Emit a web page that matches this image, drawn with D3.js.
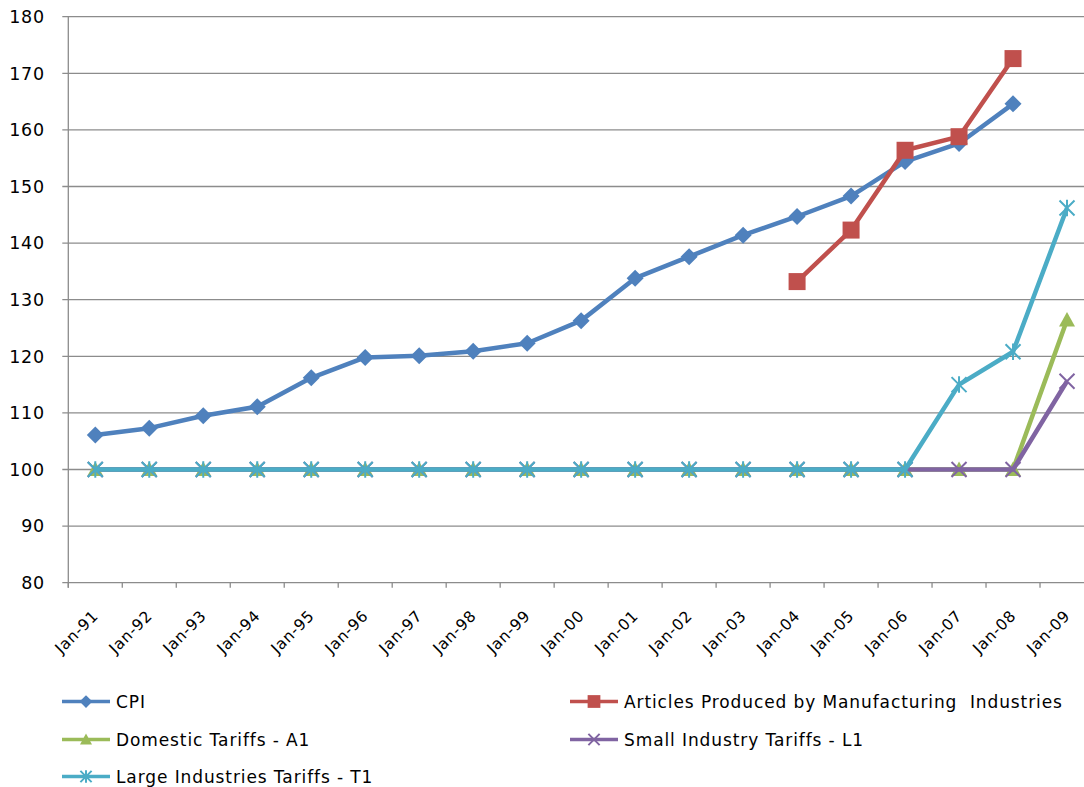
<!DOCTYPE html>
<html>
<head>
<meta charset="utf-8">
<script src="https://cdn.jsdelivr.net/npm/d3@7"></script>
<style>
  html, body { margin: 0; padding: 0; background: #fff; }
  svg { display: block; font-family: "DejaVu Sans", sans-serif; }
</style>
</head>
<body>
<svg id="chart" width="1084" height="787"></svg>
<script>
const categories = ["Jan-91","Jan-92","Jan-93","Jan-94","Jan-95","Jan-96","Jan-97","Jan-98","Jan-99","Jan-00","Jan-01","Jan-02","Jan-03","Jan-04","Jan-05","Jan-06","Jan-07","Jan-08","Jan-09"];
const cpi      = [106.1,107.3,109.5,111.1,116.2,119.8,120.1,120.9,122.3,126.3,133.8,137.6,141.4,144.7,148.3,154.4,157.6,164.6,null];
const articles = [null,null,null,null,null,null,null,null,null,null,null,null,null,133.2,142.3,156.4,158.8,172.6,null];
const domesticA1 = [100,100,100,100,100,100,100,100,100,100,100,100,100,100,100,100,100,100,126.4];
const smallL1    = [100,100,100,100,100,100,100,100,100,100,100,100,100,100,100,100,100,100,115.6];
const largeT1    = [100,100,100,100,100,100,100,100,100,100,100,100,100,100,100,100,115.0,120.8,146.2];
const yTicks = [80,90,100,110,120,130,140,150,160,170,180];
const seriesNames = ["CPI","Articles Produced by Manufacturing  Industries","Domestic Tariffs - A1","Small Industry Tariffs - L1","Large Industries Tariffs - T1"];
const seriesColors = ["#4F81BD","#C0504D","#9BBB59","#8064A2","#4BACC6"];
const seriesMarkers = ["diamond","square","triangle","x","asterisk"];

const series = [cpi, articles, domesticA1, smallL1, largeT1].map((vals, i) => ({
  name: seriesNames[i], color: seriesColors[i], marker: seriesMarkers[i], values: vals
}));

const svg = d3.select("#chart");
const plotL = 68.3, plotR = 1094, plotT = 16.7, plotB = 582.7;

const x = d3.scaleBand().domain(categories).range([plotL, plotR]).padding(0);
const y = d3.scaleLinear().domain([80, 180]).range([plotB, plotT]);
const cx = c => x(c) + x.bandwidth() / 2;

// gridlines
svg.append("g").selectAll("line").data(yTicks).join("line")
  .attr("x1", plotL - 6).attr("x2", plotR)
  .attr("y1", d => y(d)).attr("y2", d => y(d))
  .attr("stroke", "#8c8c8c").attr("stroke-width", 1.3);

// y axis line
svg.append("line").attr("x1", plotL).attr("x2", plotL).attr("y1", plotT).attr("y2", plotB + 5)
  .attr("stroke", "#8c8c8c").attr("stroke-width", 1.3);

// x ticks (boundaries)
const bounds = categories.map(c => x(c)).concat([plotR]);
svg.append("g").selectAll("line").data(bounds).join("line")
  .attr("x1", d => d).attr("x2", d => d).attr("y1", plotB).attr("y2", plotB + 5)
  .attr("stroke", "#8c8c8c").attr("stroke-width", 1.3);

// y labels
svg.append("g").selectAll("text").data(yTicks).join("text")
  .attr("x", 45).attr("y", d => y(d)).attr("dy", "0.36em")
  .attr("text-anchor", "end").attr("font-size", 17.5).attr("letter-spacing", 0.8).attr("fill", "#000")
  .text(d => d);

// x labels
svg.append("g").selectAll("text").data(categories).join("text")
  .attr("transform", c => `translate(${cx(c) + 4},${plotB + 34}) rotate(-45)`)
  .attr("text-anchor", "end").attr("font-size", 15.5).attr("letter-spacing", 0.7).attr("fill", "#000")
  .text(c => c);

function drawMarker(g, type, color, px, py, s) {
  if (type === "diamond") {
    g.append("path").attr("d", `M${px},${py - 8.5*s}L${px + 8.5*s},${py}L${px},${py + 8.5*s}L${px - 8.5*s},${py}Z`)
      .attr("fill", color);
  } else if (type === "square") {
    g.append("rect").attr("x", px - 8.5*s).attr("y", py - 8.5*s).attr("width", 17*s).attr("height", 17*s)
      .attr("fill", color);
  } else if (type === "triangle") {
    g.append("path").attr("d", `M${px},${py - 8*s}L${px + 8*s},${py + 6.5*s}L${px - 8*s},${py + 6.5*s}Z`)
      .attr("fill", color);
  } else if (type === "x") {
    const r = 7.5*s;
    g.append("path").attr("d", `M${px - r},${py - r}L${px + r},${py + r}M${px - r},${py + r}L${px + r},${py - r}`)
      .attr("stroke", color).attr("stroke-width", 2).attr("fill", "none");
  } else if (type === "asterisk") {
    const r = 7.5*s;
    g.append("path").attr("d", `M${px - r},${py - r}L${px + r},${py + r}M${px - r},${py + r}L${px + r},${py - r}M${px},${py - r*1.1}L${px},${py + r*1.1}`)
      .attr("stroke", color).attr("stroke-width", 2).attr("fill", "none");
  }
}

const line = d3.line()
  .defined(d => d.v !== null)
  .x(d => cx(d.c)).y(d => y(d.v));

series.forEach(s => {
  const pts = categories.map((c, i) => ({ c, v: s.values[i] }));
  const g = svg.append("g");
  g.append("path").datum(pts).attr("d", line)
    .attr("fill", "none").attr("stroke", s.color).attr("stroke-width", 4.5)
    .attr("stroke-linejoin", "round");
  pts.filter(p => p.v !== null).forEach(p => drawMarker(g, s.marker, s.color, cx(p.c), y(p.v), 1));
});

// legend
const legendPos = [
  { lx: 62, ly: 701.5 },
  { lx: 570, ly: 701.5 },
  { lx: 62, ly: 739.5 },
  { lx: 570, ly: 739.5 },
  { lx: 62, ly: 776.5 }
];
series.forEach((s, i) => {
  const p = legendPos[i];
  const g = svg.append("g");
  g.append("line").attr("x1", p.lx).attr("x2", p.lx + 48).attr("y1", p.ly).attr("y2", p.ly)
    .attr("stroke", s.color).attr("stroke-width", 3.5);
  drawMarker(g, s.marker, s.color, p.lx + 24, p.ly, 0.75);
  g.append("text").attr("x", p.lx + 54).attr("y", p.ly).attr("dy", "0.36em")
    .attr("font-size", 17).attr("letter-spacing", 0.9).style("white-space", "pre")
    .attr("fill", "#000").text(s.name);
});
</script>
</body>
</html>
